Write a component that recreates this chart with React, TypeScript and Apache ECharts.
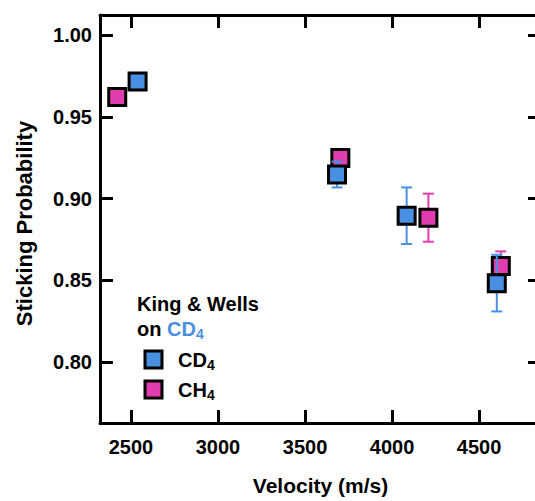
import React, { useEffect, useRef } from "react";
import * as echarts from "echarts";

// ---- data ----
const xTicks = [2500, 3000, 3500, 4000, 4500];
const yTicks = [0.8, 0.85, 0.9, 0.95, 1.0];

const cd4Velocity = [2538, 3684, 4084, 4602];
const cd4Prob = [0.9715, 0.9147, 0.8895, 0.8483];
const cd4Err = [0.003, 0.0079, 0.0173, 0.0173];

const ch4Velocity = [2421, 3703, 4209, 4625];
const ch4Prob = [0.962, 0.9248, 0.8883, 0.8587];
const ch4Err = [0.003, 0.004, 0.0147, 0.009];

const X_MIN = 2322;
const X_MAX = 4856;
const Y_MIN = 0.7628;
const Y_MAX = 1.0122;

const BLUE = "#4A90E2";
const PINK = "#E23DAF";
const FONT = "'Liberation Sans', Arial, Helvetica, sans-serif";

const makeRows = (xs: number[], ys: number[], es: number[]) =>
  xs.map((x, i) => [x, ys[i], es[i]]);

const errRender = (color: string) => (params: any, api: any) => {
  const x = api.value(0);
  const y = api.value(1);
  const e = api.value(2);
  const top = api.coord([x, y + e]);
  const bot = api.coord([x, y - e]);
  const hw = 5.5;
  const style = { stroke: color, lineWidth: 2 };
  return {
    type: "group",
    children: [
      { type: "line", shape: { x1: top[0], y1: top[1], x2: bot[0], y2: bot[1] }, style },
      { type: "line", shape: { x1: top[0] - hw, y1: top[1], x2: top[0] + hw, y2: top[1] }, style },
      { type: "line", shape: { x1: bot[0] - hw, y1: bot[1], x2: bot[0] + hw, y2: bot[1] }, style },
    ],
  };
};

const axisLineStyle = { show: true, onZero: false, lineStyle: { color: "#000", width: 3 } };
const labelStyle = { fontSize: 20, fontWeight: "bold" as const, color: "#000", fontFamily: FONT };

const legendRich = {
  m: { fontSize: 20, fontWeight: "bold", fontFamily: FONT, color: "#000", lineHeight: 25 },
  s: { fontSize: 14, fontWeight: "bold", fontFamily: FONT, color: "#000", lineHeight: 14, padding: [11, 0, 0, 0] },
};

const titleRich = {
  m: { fontSize: 20, fontWeight: "bold", fontFamily: FONT, fill: "#000", lineHeight: 25 },
  c: { fontSize: 20, fontWeight: "bold", fontFamily: FONT, fill: BLUE, lineHeight: 25 },
  cs: { fontSize: 14, fontWeight: "bold", fontFamily: FONT, fill: BLUE, lineHeight: 14, padding: [11, 0, 0, 0] },
};

export default function App() {
  const ref = useRef<HTMLDivElement>(null);
  useEffect(() => {
    if (!ref.current) return;
    const chart = echarts.init(ref.current, undefined, { renderer: "svg" });
    const option: any = {
      animation: false,
      backgroundColor: "#fff",
      textStyle: { fontFamily: FONT },
      grid: { left: 100, top: 15, right: 9, bottom: 77, containLabel: false },
      xAxis: [
        {
          type: "value",
          position: "bottom",
          min: X_MIN,
          max: X_MAX,
          axisLine: axisLineStyle,
          axisTick: { show: true, inside: true, length: 13, lineStyle: { color: "#000", width: 3 }, customValues: xTicks },
          axisLabel: { ...labelStyle, customValues: xTicks, margin: 14, formatter: (v: number) => String(v) },
          splitLine: { show: false },
          name: "Velocity (m/s)",
          nameLocation: "middle",
          nameGap: 52,
          nameTextStyle: { ...labelStyle, fontSize: 21 },
        },
        {
          type: "value",
          position: "top",
          min: X_MIN,
          max: X_MAX,
          axisLine: axisLineStyle,
          axisTick: { show: true, inside: true, length: 13, lineStyle: { color: "#000", width: 3 }, customValues: xTicks },
          axisLabel: { show: false },
          splitLine: { show: false },
        },
      ],
      yAxis: [
        {
          type: "value",
          position: "left",
          min: Y_MIN,
          max: Y_MAX,
          axisLine: axisLineStyle,
          axisTick: { show: true, inside: true, length: 13, lineStyle: { color: "#000", width: 3 }, customValues: yTicks },
          axisLabel: { ...labelStyle, customValues: yTicks, margin: 8, formatter: (v: number) => v.toFixed(2) },
          splitLine: { show: false },
          name: "Sticking Probability",
          nameLocation: "middle",
          nameGap: 65,
          nameTextStyle: { ...labelStyle, fontSize: 22, padding: [0, 9, 0, 0] },
        },
        {
          type: "value",
          position: "right",
          min: Y_MIN,
          max: Y_MAX,
          axisLine: axisLineStyle,
          axisTick: { show: true, inside: true, length: 13, lineStyle: { color: "#000", width: 3 }, customValues: yTicks },
          axisLabel: { show: false },
          splitLine: { show: false },
        },
      ],
      legend: {
        orient: "vertical",
        left: 143.5,
        top: 347,
        padding: 0,
        itemWidth: 17,
        itemHeight: 17,
        itemGap: 5,
        selectedMode: false,
        data: ["CD4", "CH4"],
        itemStyle: { borderColor: "#000", borderWidth: 3 },
        formatter: (name: string) => `{m|${name.slice(0, 2)}}{s|${name.slice(2)}}`,
        textStyle: { padding: [0, 0, 0, 11], rich: legendRich },
      },
      graphic: [
        {
          type: "text",
          left: 137,
          top: 293.5,
          style: {
            text: "{m|King & Wells}\n{m|on }{c|CD}{cs|4}",
            rich: titleRich,
          },
        },
      ],
      series: [
        {
          name: "CH4 error",
          type: "custom",
          z: 1,
          renderItem: errRender(PINK),
          encode: { x: 0, y: 1 },
          data: makeRows(ch4Velocity, ch4Prob, ch4Err),
        },
        {
          name: "CH4",
          type: "scatter",
          z: 2,
          symbol: "rect",
          symbolSize: 17,
          itemStyle: { color: PINK, borderColor: "#000", borderWidth: 3, opacity: 1 },
          data: ch4Velocity.map((x, i) => [x, ch4Prob[i]]),
        },
        {
          name: "CD4 error",
          type: "custom",
          z: 3,
          renderItem: errRender(BLUE),
          encode: { x: 0, y: 1 },
          data: makeRows(cd4Velocity, cd4Prob, cd4Err),
        },
        {
          name: "CD4",
          type: "scatter",
          z: 4,
          symbol: "rect",
          symbolSize: 17,
          itemStyle: { color: BLUE, borderColor: "#000", borderWidth: 3, opacity: 1 },
          data: cd4Velocity.map((x, i) => [x, cd4Prob[i]]),
        },
      ],
    };
    chart.setOption(option);
    return () => chart.dispose();
  }, []);

  return (
    <div style={{ position: "absolute", left: 0, top: 0, width: 535, height: 501, overflow: "hidden", background: "#fff" }}>
      <div ref={ref} style={{ width: 550, height: 501 }} />
    </div>
  );
}
